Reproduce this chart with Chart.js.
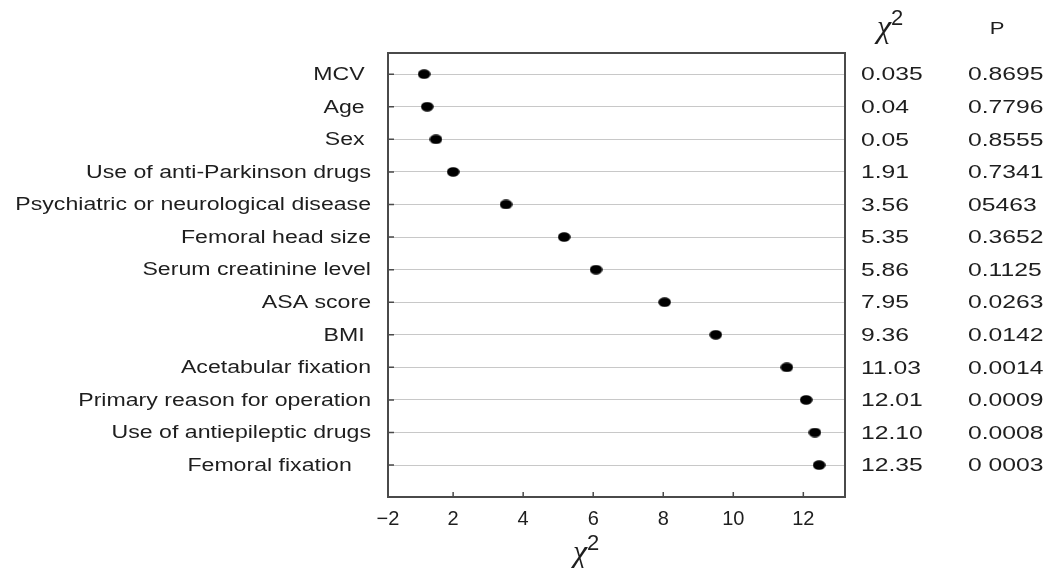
<!DOCTYPE html>
<html>
<head>
<meta charset="utf-8">
<script src="https://cdn.jsdelivr.net/npm/chart.js@4/dist/chart.umd.min.js"></script>
<style>
  html, body { margin: 0; padding: 0; background: #fff; }
  #wrap { width: 1062px; height: 568px; }
</style>
</head>
<body>
<div id="wrap"><canvas id="chart"></canvas></div>
<script>
// ======================================================
// DATA
// ======================================================
const categories = [
  "MCV ", "Age ", "Sex ", "Use of anti-Parkinson drugs",
  "Psychiatric or neurological disease", "Femoral head size",
  "Serum creatinine level", "ASA score", "BMI ", "Acetabular fixation",
  "Primary reason for operation", "Use of antiepileptic drugs",
  "Femoral fixation   "
];
// dot positions as plotted on the x axis
const chiPlotted = [1.17, 1.26, 1.51, 2.0, 3.51, 5.17, 6.08, 8.04, 9.5, 11.53, 12.08, 12.33, 12.45];
// printed table on the right
const chiLabels = ["0.035", "0.04", "0.05", "1.91", "3.56", "5.35", "5.86", "7.95", "9.36", "11.03", "12.01", "12.10", "12.35"];
const pLabels = ["0.8695", "0.7796", "0.8555", "0.7341", "05463", "0.3652", "0.1125", "0.0263", "0.0142", "0.0014", "0.0009", "0.0008", "0 0003"];
// x axis ticks (left edge is labelled "−2")
const xTicks = [2, 4, 6, 8, 10, 12];
const xMin = 0.14;
const xMax = 13.19;
const xMinLabel = "\u22122";

// ======================================================
// helpers
// ======================================================
const SANS = "'Liberation Sans', Arial, sans-serif";
const SERIF = "'Liberation Serif', 'DejaVu Serif', serif";
const INK = "#1e1e1e";

function wideText(ctx, text, x, y, align, sx) {
  ctx.save();
  ctx.translate(x, y);
  ctx.scale(sx, 1);
  ctx.textAlign = align;
  ctx.fillText(text, 0, 0);
  ctx.restore();
}

function chiSquared(ctx, x, y, size) {
  // italic chi with a raised 2, like the TeX label
  ctx.save();
  ctx.fillStyle = INK;
  ctx.textAlign = "left";
  ctx.textBaseline = "alphabetic";
  ctx.font = "italic " + size + "px " + SERIF;
  ctx.fillText("\u03C7", x, y);
  const w = ctx.measureText("\u03C7").width;
  ctx.font = Math.round(size * 0.68) + "px " + SANS;
  ctx.fillText("2", x + w, y - size * 0.38);
  ctx.restore();
}

// slightly flattened dot, as in the picture
const dot = document.createElement("canvas");
dot.width = 13;
dot.height = 10;
(function () {
  const c = dot.getContext("2d");
  c.fillStyle = "#000";
  c.beginPath();
  c.ellipse(6.5, 5, 6.3, 4.8, 0, 0, Math.PI * 2);
  c.fill();
})();

// ======================================================
// extra drawing: frame, inner ticks, labels, table
// ======================================================
const sidePlugin = {
  id: "sideText",
  afterDraw(chart) {
    const ctx = chart.ctx;
    const a = chart.chartArea;
    const xs = chart.scales.x;
    const ys = chart.scales.y;

    ctx.save();
    // frame
    ctx.strokeStyle = "#4a4a4a";
    ctx.lineWidth = 2;
    ctx.strokeRect(a.left, a.top, a.right - a.left, a.bottom - a.top);

    // inner tick marks
    ctx.lineWidth = 1.5;
    ctx.beginPath();
    xTicks.forEach((v) => {
      const px = xs.getPixelForValue(v);
      ctx.moveTo(px, a.bottom);
      ctx.lineTo(px, a.bottom - 5);
    });
    categories.forEach((_, i) => {
      const py = ys.getPixelForValue(i);
      ctx.moveTo(a.left, py);
      ctx.lineTo(a.left + 6, py);
    });
    ctx.stroke();

    // category labels
    ctx.fillStyle = INK;
    ctx.textBaseline = "middle";
    ctx.font = "17.5px " + SANS;
    categories.forEach((label, i) => {
      wideText(ctx, label, a.left - 17, ys.getPixelForValue(i) + 1, "right", 1.32);
    });

    // table on the right
    ctx.font = "19px " + SANS;
    categories.forEach((_, i) => {
      const py = ys.getPixelForValue(i) + 1;
      wideText(ctx, chiLabels[i], 861, py, "left", 1.3);
      wideText(ctx, pLabels[i], 968, py, "left", 1.3);
    });

    // headers
    ctx.font = "17px " + SANS;
    wideText(ctx, "P", 997, 29, "center", 1.3);
    chiSquared(ctx, 877, 37, 32);

    // x axis title
    chiSquared(ctx, 573, 562, 32);
    ctx.restore();
  }
};

// ======================================================
// chart
// ======================================================
new Chart(document.getElementById("chart"), {
  type: "scatter",
  data: {
    datasets: [{
      data: chiPlotted.map((v, i) => ({ x: v, y: i })),
      pointStyle: dot,
      pointRadius: 6,
      pointHoverRadius: 6,
      backgroundColor: "#000",
      borderColor: "#000"
    }]
  },
  options: {
    responsive: true,
    maintainAspectRatio: false,
    animation: false,
    layout: { padding: { left: 388, right: 217, top: 53, bottom: 27 } },
    plugins: {
      legend: { display: false },
      tooltip: { enabled: false }
    },
    scales: {
      x: {
        type: "linear",
        min: xMin,
        max: xMax,
        afterBuildTicks: (scale) => {
          scale.ticks = [{ value: xMin }].concat(xTicks.map((v) => ({ value: v })));
        },
        grid: { display: false, drawTicks: false },
        border: { display: true, color: "#4a4a4a", width: 2 },
        ticks: {
          padding: 10,
          color: INK,
          font: { family: SANS, size: 20 },
          callback: (v) => (v === xMin ? xMinLabel : String(v))
        }
      },
      y: {
        type: "linear",
        reverse: true,
        min: -0.65,
        max: 12.98,
        afterBuildTicks: (scale) => {
          scale.ticks = categories.map((_, i) => ({ value: i }));
        },
        grid: { color: "#c8c8c8", lineWidth: 1, drawTicks: false },
        border: { display: true, color: "#4a4a4a", width: 2 },
        ticks: { display: false }
      }
    }
  },
  plugins: [sidePlugin]
});
</script>
</body>
</html>
